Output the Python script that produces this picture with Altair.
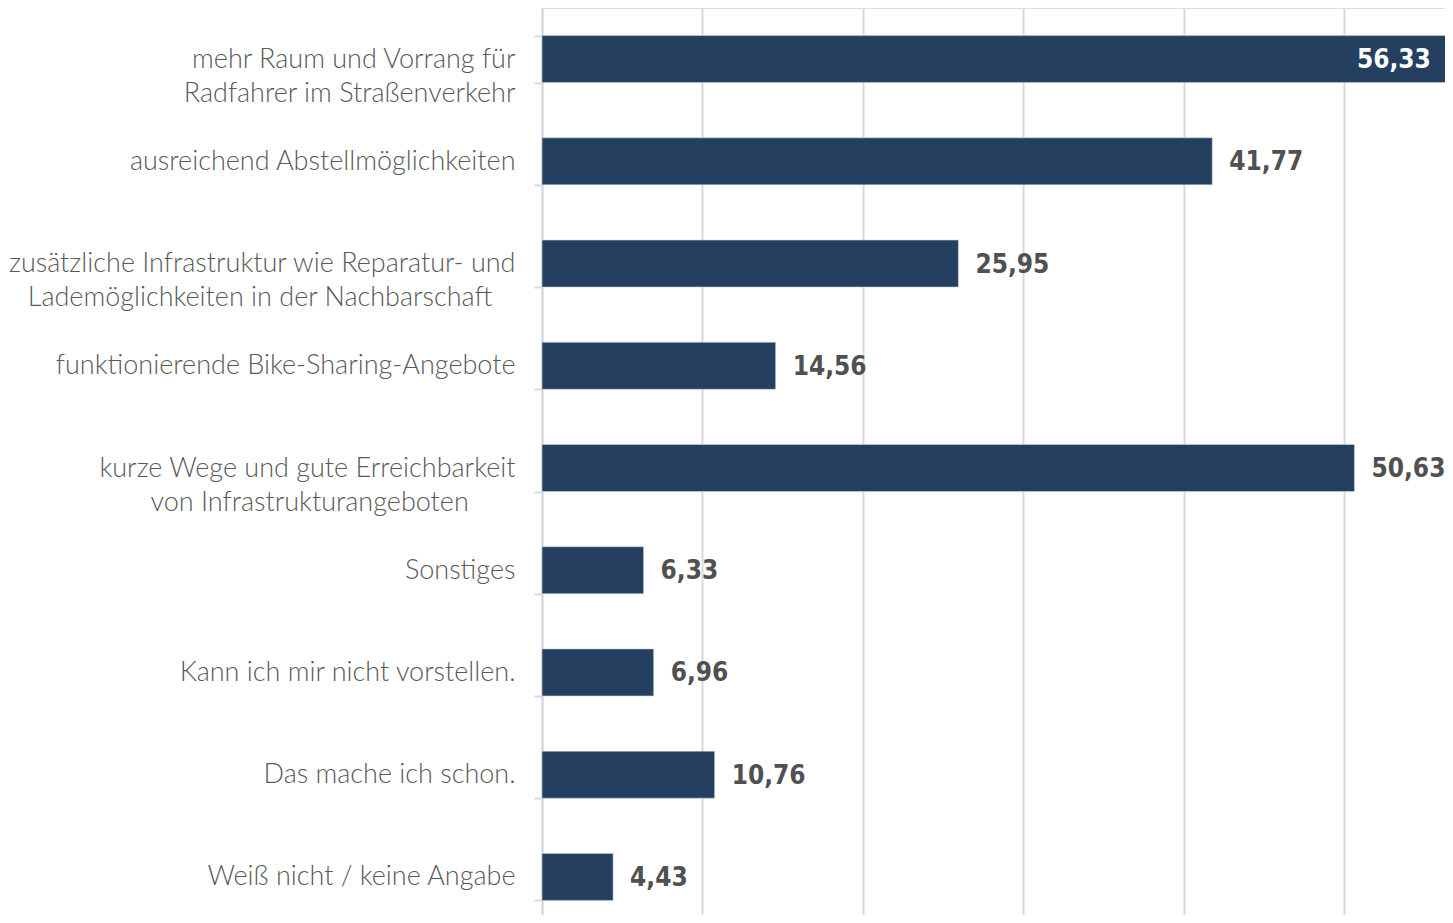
import altair as alt
import pandas as pd

BL = "\u2800"
TH = "\u2009"
categories = [
    "mehr Raum und Vorrang für|Radfahrer im Straßenverkehr",
    "ausreichend Abstellmöglichkeiten",
    "zusätzliche Infrastruktur wie Reparatur- und|Lademöglichkeiten in der Nachbarschaft" + TH + BL,
    "funktionierende Bike-Sharing-Angebote",
    "kurze Wege und gute Erreichbarkeit|von Infrastrukturangeboten" + TH + TH + BL * 2,
    "Sonstiges",
    "Kann ich mir nicht vorstellen.",
    "Das mache ich schon.",
    "Weiß nicht / keine Angabe",
]
values = [56.33, 41.77, 25.95, 14.56, 50.63, 6.33, 6.96, 10.76, 4.43]
labels = ["56,33", "41,77", "25,95", "14,56", "50,63", "6,33", "6,96", "10,76", "4,43"]
grid_values = [0, 10, 20, 30, 40, 50]

df = pd.DataFrame({"cat": categories, "value": values, "label": labels})

BAR = "#253f60"
TXT = "#595959"
VAL = "#505050"
LABEL_FONT = "Lato"
VALUE_FONT = "DejaVu Sans Condensed, Noto Sans Condensed, Roboto Condensed, Arial Narrow, Roboto, sans-serif"

y_enc = alt.Y(
    "cat:N",
    sort=categories,
    scale=alt.Scale(paddingInner=0.54, paddingOuter=0.27, range=[0, 920]),
    axis=alt.Axis(
        title=None,
        labelExpr="split(datum.label, '|')",
        labelFont=LABEL_FONT,
        labelFontWeight=300,
        labelFontSize=27,
        labelColor=TXT,
        labelPadding=19,
        labelLineHeight=34,
        labelLimit=700,
        tickBand="extent",
        tickSize=8,
        tickColor="#d9d9d9",
        tickWidth=2,
        domainColor="#d9d9d9",
        domainWidth=2,
        grid=False,
    ),
)
x_enc = alt.X(
    "value:Q",
    scale=alt.Scale(domain=[0, 56.4], nice=False, zero=True, range=[0, 905]),
    axis=alt.Axis(
        values=grid_values,
        labels=False,
        ticks=False,
        domain=False,
        grid=True,
        gridColor="#d9d9d9",
        gridWidth=2,
        title=None,
    ),
)

base = alt.Chart(df).encode(y=y_enc, x=x_enc)

bars = base.mark_bar(color=BAR, stroke="#c9d3df", strokeWidth=0.6)

outside = base.transform_filter("datum.value < 55").mark_text(
    align="left", baseline="middle", dx=17, dy=1,
    font=VALUE_FONT, fontWeight="bold", fontSize=26, color=VAL,
).encode(text="label:N")

inside = base.transform_filter("datum.value >= 55").mark_text(
    align="right", baseline="middle", dx=-15, dy=1,
    font=VALUE_FONT, fontWeight="bold", fontSize=26, color="white",
).encode(text="label:N")

chart = (
    (bars + outside + inside)
    .properties(
        width=903,
        height=907,
        autosize=alt.AutoSizeParams(type="none"),
        padding={"left": 534, "top": 0, "right": 0, "bottom": 0},
    )
    .configure_view(stroke=None)
    .configure(background="white")
)

chart.save("out.html", embed_options={"renderer": "svg", "actions": False})
